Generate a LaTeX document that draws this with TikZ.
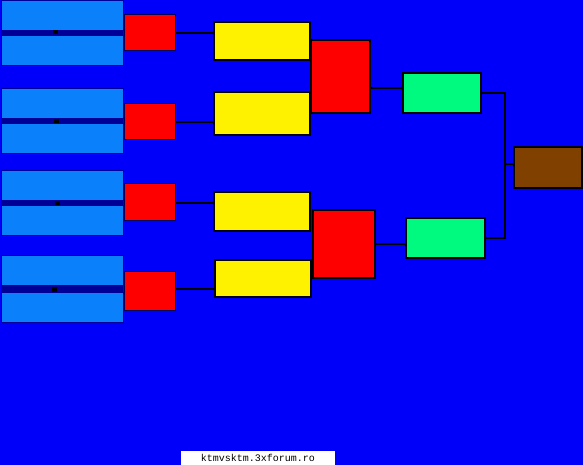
\documentclass[tikz,border=0pt]{standalone}
\usepackage{fontspec}
\setmonofont{Liberation Mono}
\usetikzlibrary{positioning}
\definecolor{field}{RGB}{0,0,250}
\definecolor{seedblue}{RGB}{10,128,250}
\definecolor{navy}{RGB}{0,0,150}
\definecolor{finalgreen}{RGB}{0,250,128}
\definecolor{cupbrown}{RGB}{128,64,0}

\begin{document}
\begin{tikzpicture}[
        x = 1pt, y = -1pt,
        box/.style = {rectangle, inner sep = 0pt, outer sep = 0pt},
        seed/.style = {box, fill = seedblue, draw = navy, line width = 0.8pt, minimum width = 122pt, minimum height = 30pt},
        first/.style = {box, fill = red, draw = navy!60!black, line width = 1pt, minimum width = 51pt, minimum height = 36pt},
        second/.style = {box, fill = yellow, draw = black, line width = 2.2pt, minimum width = 96pt},
        semi/.style = {box, fill = red, draw = black, line width = 2.2pt},
        final/.style = {box, fill = finalgreen, draw = black, line width = 2.2pt, minimum width = 78pt, minimum height = 40pt},
        champion/.style = {box, fill = cupbrown, draw = black, line width = 2.2pt, minimum width = 68pt, minimum height = 41pt},
        link/.style = {draw = black, line width = 2pt},
        gap/.style = {fill = navy},
        pin/.style = {fill = black}
      ]
      \useasboundingbox[fill = field] (0,0) rectangle (583,465);

      \node[seed] (s1a) at (62,15.5) {};
      \node[seed, below = 5pt of s1a] (s1b) {};
      \node[seed] (s2a) at (62,103) {};
      \node[seed, below = 5pt of s2a] (s2b) {};
      \node[seed] (s3a) at (62,185.5) {};
      \node[seed, below = 5pt of s3a] (s3b) {};
      \node[seed] (s4a) at (62,270) {};
      \node[seed, below = 7pt of s4a] (s4b) {};

      \fill[gap] (s1a.south west) rectangle (s1b.north east);
      \fill[gap] (s2a.south west) rectangle (s2b.north east);
      \fill[gap] (s3a.south west) rectangle (s3b.north east);
      \fill[gap] (s4a.south west) rectangle (s4b.north east);
      \fill[pin] (53,30.5) rectangle (57.5,34.5);
      \fill[pin] (54,119) rectangle (58.5,123);
      \fill[pin] (55,201) rectangle (59.5,205);
      \fill[pin] (52,287) rectangle (56.5,291.5);

      \node[first] (r1) at (150,33) {};
      \node[first] (r2) at (150,122) {};
      \node[first] (r3) at (150,202) {};
      \node[first, minimum height = 39pt] (r4) at (149.5,290.5) {};

      \node[second, minimum height = 38pt] (y1) at (262,41) {};
      \node[second, minimum height = 43pt] (y2) at (262,113.5) {};
      \node[second, minimum height = 39pt] (y3) at (262,211.5) {};
      \node[second, minimum height = 37pt] (y4) at (263,278.5) {};

      \node[semi, minimum width = 59pt, minimum height = 73pt] (b1) at (340.5,76.5) {};
      \node[semi, minimum width = 62pt, minimum height = 68pt] (b2) at (344,244) {};

      \node[final] (g1) at (442,93) {};
      \node[final, minimum width = 79pt] (g2) at (445.5,238) {};

      \node[champion] (cup) at (548,167.5) {};
      \coordinate (fork) at (505,164);

      \draw[link] (r1.east) -- (r1.east -| y1.west);
      \draw[link] (r2.east) -- (r2.east -| y2.west);
      \draw[link] ([yshift = -1pt]r3.east) -- ([yshift = -1pt]r3.east -| y3.west);
      \draw[link] ([yshift = 2pt]r4.east) -- ([yshift = 2pt]r4.east -| y4.west);
      \draw[link] ([yshift = 5pt]g1.west) -- ([yshift = 5pt]g1.west -| b1.east);
      \draw[link] (b2.east) -- (b2.east -| g2.west);
      \draw[link] (g1.east) -| (fork) |- (g2.east);
      \draw[link] (fork) -- (fork -| cup.west);

      \node[box, fill = white, minimum width = 154pt, minimum height = 14pt,
            font = \ttfamily\fontsize{10}{10}\selectfont] (mark) at (258,458) {ktmvsktm.3xforum.ro};
    \end{tikzpicture}
\end{document}
